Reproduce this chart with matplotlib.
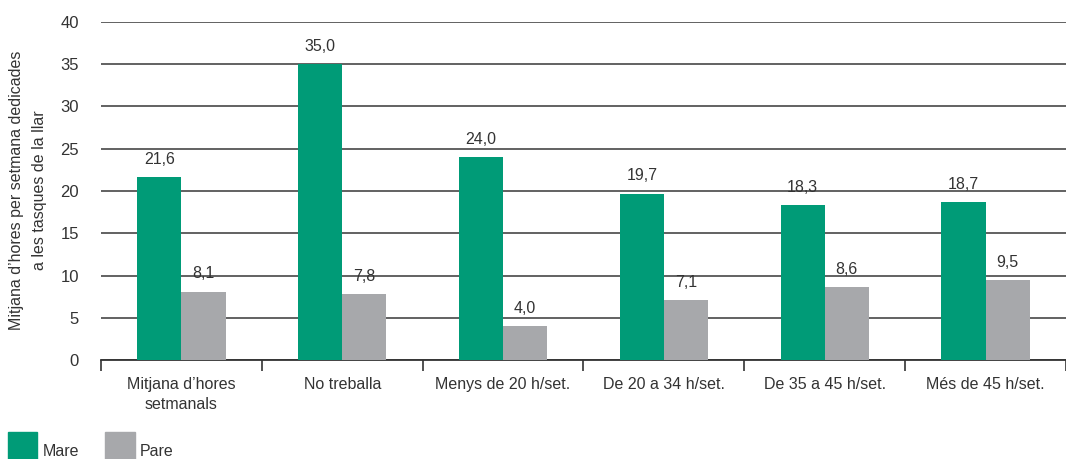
import numpy as np
from matplotlib import pyplot as plt
from matplotlib.patches import Rectangle

categories = ["Mitjana d’hores\nsetmanals", "No treballa", "Menys de 20 h/set.",
              "De 20 a 34 h/set.", "De 35 a 45 h/set.", "Més de 45 h/set."]
mare = [21.6, 35.0, 24.0, 19.7, 18.3, 18.7]
pare = [8.1, 7.8, 4.0, 7.1, 8.6, 9.5]

green = "#009B77"
grey = "#A7A8AB"
txt = "#333333"

plt.rcParams['font.family'] = ['Liberation Sans', 'DejaVu Sans']
plt.rcParams['font.size'] = 11

fig = plt.figure(figsize=(10.66, 4.59), dpi=100)
ax = fig.add_axes([101/1066, 1 - 360/459, 1 - 101/1066, (360 - 22)/459])

x = np.arange(len(categories))
w = 0.275
ax.bar(x - w/2, mare, width=w, color=green, zorder=3)
ax.bar(x + w/2, pare, width=w, color=grey, zorder=3)

for xi, v in zip(x - w/2, mare):
    ax.text(xi, v + 1.2, f"{v:.1f}".replace(".", ","), ha="center", va="bottom",
            fontsize=11.5, color=txt)
for xi, v in zip(x + w/2, pare):
    ax.text(xi, v + 1.2, f"{v:.1f}".replace(".", ","), ha="center", va="bottom",
            fontsize=11.5, color=txt)

ax.set_xlim(-0.5, len(categories) - 0.5)
ax.set_ylim(0, 40)
ax.set_yticks(range(0, 41, 5))
ax.yaxis.grid(True, color="#555555", linewidth=1.3, zorder=0)
ax.tick_params(axis="y", length=0, pad=16, labelsize=12, labelcolor=txt)

ax.set_xticks(x)
ax.set_xticklabels(categories, fontsize=11.5, color=txt, linespacing=1.45)
ax.tick_params(axis="x", length=0, pad=12)
ax.set_xticks(np.arange(-0.5, len(categories)), minor=True)
ax.tick_params(axis="x", which="minor", length=8, width=1.2, color="#333333", direction="out")

for s in ["top", "right", "left"]:
    ax.spines[s].set_visible(False)
ax.spines["bottom"].set_color("#333333")
ax.spines["bottom"].set_linewidth(1.3)

fig.text(28/1066, 1 - 190/459, "Mitjana d’hores per setmana dedicades\na les tasques de la llar",
         rotation=90, ha="center", va="center", fontsize=11.5, color=txt,
         multialignment="center", linespacing=1.65)

# legend
fig.patches.append(Rectangle((8/1066, 1 - 459/459), 29/1066, 27/459, transform=fig.transFigure,
                             color=green, figure=fig))
fig.text(43/1066, 1 - 451/459, "Mare", ha="left", va="center", fontsize=11.5, color=txt)
fig.patches.append(Rectangle((105/1066, 1 - 459/459), 30/1066, 27/459, transform=fig.transFigure,
                             color=grey, figure=fig))
fig.text(140/1066, 1 - 451/459, "Pare", ha="left", va="center", fontsize=11.5, color=txt)

fig.savefig("out.png", dpi=100)
